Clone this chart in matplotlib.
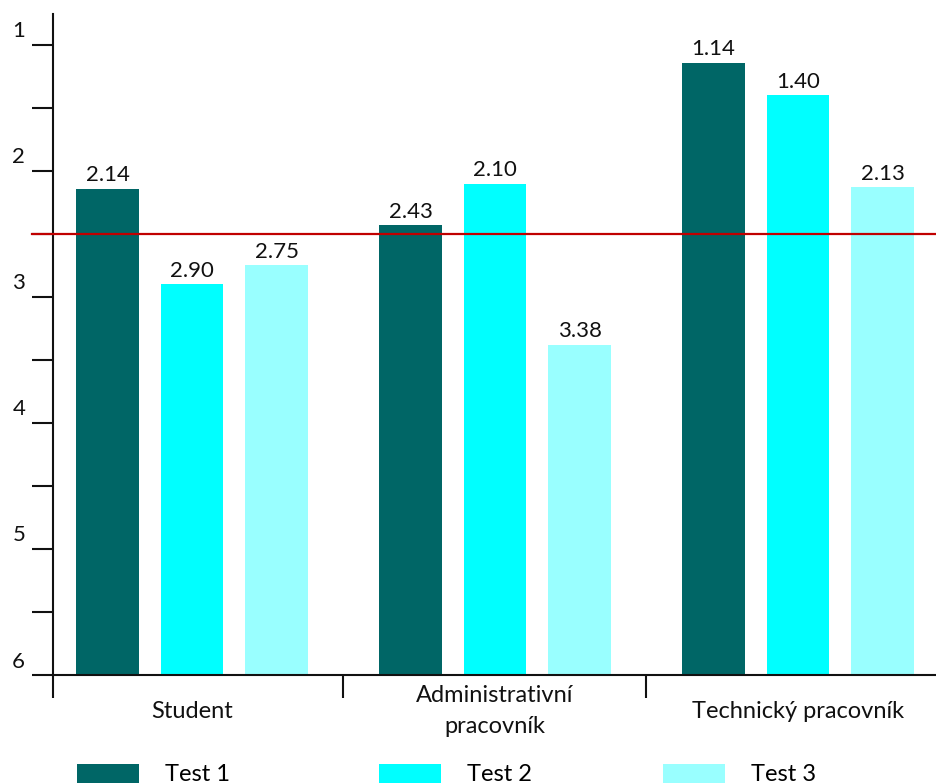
import numpy as np
import matplotlib.pyplot as plt
from matplotlib.transforms import ScaledTranslation, blended_transform_factory

plt.rcParams['font.family'] = ['Lato', 'DejaVu Sans']

categories = ['Student', 'Administrativní\npracovník', 'Technický pracovník']
series = ['Test 1', 'Test 2', 'Test 3']
test1 = [2.14, 2.43, 1.14]
test2 = [2.90, 2.10, 1.40]
test3 = [2.75, 3.38, 2.13]
colors = ['#006666', '#00FFFF', '#99FFFF']
average = 2.5
scale_bottom = 6

fs = 17
fs_num = 16
fig = plt.figure(figsize=(9.36, 7.84), dpi=100)
ax = fig.add_axes([53 / 936, 109 / 784, 883 / 936, 661 / 784])

x = np.arange(len(categories))
offset = 0.279
width = 0.205
bars = []
for i, vals in enumerate([test1, test2, test3]):
    vals = np.array(vals)
    pos = x + (i - 1) * offset
    b = ax.bar(pos, scale_bottom - vals, bottom=vals, width=width,
               color=colors[i], label=series[i], zorder=2)
    bars.append(b)
    for px, v in zip(pos, vals):
        ax.annotate(f'{v:.2f}', (px, v), xytext=(0, 2.5), textcoords='offset points',
                    ha='center', va='bottom', fontsize=fs_num, color='#111111')

left = -0.4587
ax.set_xlim(left, left + 883 / 303)
ax.set_ylim(scale_bottom, 0.754)

# reference line
ax.axhline(average, xmin=-21 / 883, xmax=1, color='#C00000', lw=1.6,
           clip_on=False, zorder=3)

for s in ['top', 'right']:
    ax.spines[s].set_visible(False)
for s in ['left', 'bottom']:
    ax.spines[s].set_linewidth(1.5)
    ax.spines[s].set_color('#111111')

ax.set_yticks(range(1, 7))
ax.set_yticks(np.arange(1.5, 6, 1), minor=True)
ax.set_yticklabels([str(v) for v in range(1, 7)], fontsize=fs_num, color='#111111')
ax.tick_params(axis='y', which='both', direction='out', length=15, width=1.5,
               color='#111111', pad=5)
shift = ScaledTranslation(0, 15.5 / 100, fig.dpi_scale_trans)
for lab in ax.get_yticklabels():
    lab.set_transform(lab.get_transform() + shift)

ax.set_xticks([left, 0.5, 1.5])
ax.set_xticklabels(['', '', ''])
ax.tick_params(axis='x', which='major', direction='out', length=16.5, width=1.5,
               color='#111111')

trans = blended_transform_factory(ax.transData, fig.transFigure)
for xi, name in zip(x, categories):
    ax.text(xi, (784 - 711) / 784, name, transform=trans, ha='center', va='center',
            fontsize=fs, color='#111111', linespacing=1.6, clip_on=False)

# legend entries spaced along the bottom
legend_x = [77, 379, 663]
for b, name, lx in zip(bars, series, legend_x):
    fig.legend(handles=[b], labels=[name], loc='center left',
               bbox_to_anchor=(lx / 936, (784 - 774.5) / 784),
               frameon=False, fontsize=fs, handlelength=62 / 23.6,
               handleheight=0.85, handletextpad=1.1, borderpad=0,
               borderaxespad=0)

fig.savefig('out.png', dpi=100)
